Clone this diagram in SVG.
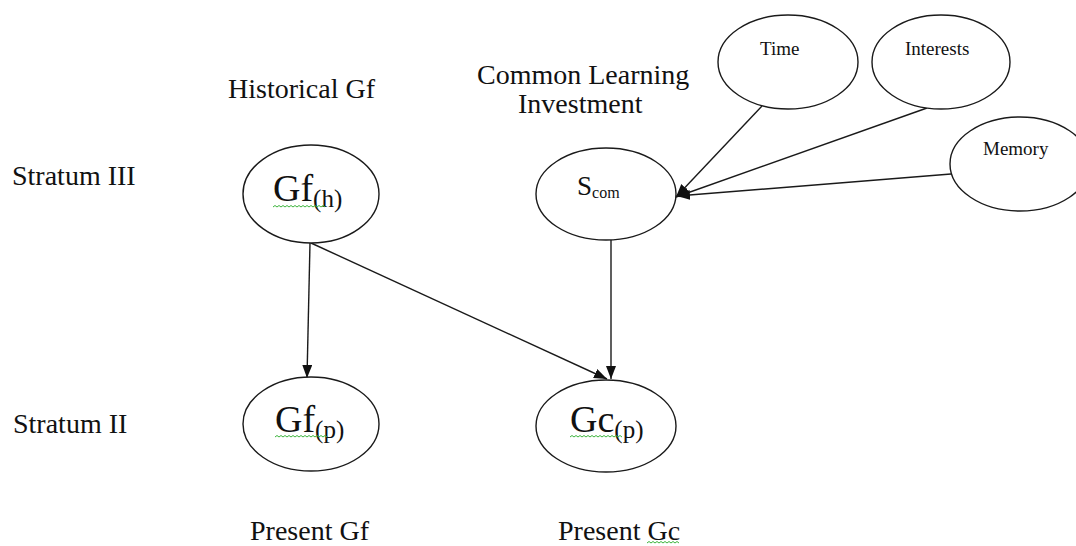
<svg xmlns="http://www.w3.org/2000/svg" width="1076" height="546" viewBox="0 0 1076 546">
<style>
.bg{fill:#ffffff}
.node ellipse{fill:#ffffff;stroke:#1a1a1a;stroke-width:1.4}
text{font-family:"Liberation Serif","Times New Roman",serif;fill:#111}
.lbl{font-size:28px}
.big{font-size:38px}
.sub{font-size:25px}
.ssub{font-size:16px}
.s27{font-size:27px}
.small{font-size:19px}
.edge{stroke:#1a1a1a;stroke-width:1.4;fill:none}
.sq{stroke:#3cb43c;stroke-width:1;fill:none}
</style>
<defs>
<marker id="arr" markerUnits="userSpaceOnUse" markerWidth="14" markerHeight="11" refX="13" refY="5" orient="auto">
<path d="M0,0 L13,5 L0,10 z" fill="#111"/>
</marker>
</defs>
<rect class="bg" x="0" y="0" width="1076" height="546"/>

<g id="labels">
<text class="lbl" x="228" y="98">Historical Gf</text>
<text class="lbl" x="477" y="84">Common Learning</text>
<text class="lbl" x="518" y="113">Investment</text>
<text class="lbl" x="12" y="185">Stratum III</text>
<text class="lbl" x="13" y="433">Stratum II</text>
<text class="lbl" x="250" y="540">Present Gf</text>
<text class="lbl" x="558" y="540">Present Gc</text>
<path class="sq" d="M647,543 l2,-1.5 l2,1.5 l2,-1.5 l2,1.5 l2,-1.5 l2,1.5 l2,-1.5 l2,1.5 l2,-1.5 l2,1.5 l2,-1.5 l2,1.5 l2,-1.5 l2,1.5 l2,-1.5 l2,1.5"/>
</g>

<g id="connectors">
<line class="edge" x1="310" y1="243" x2="307" y2="378" marker-end="url(#arr)"/>
<line class="edge" x1="311" y1="243" x2="607" y2="379" marker-end="url(#arr)"/>
<line class="edge" x1="611" y1="240" x2="611" y2="379" marker-end="url(#arr)"/>
<line class="edge" x1="762" y1="106" x2="676" y2="197" marker-end="url(#arr)"/>
<line class="edge" x1="927" y1="108" x2="676" y2="197" marker-end="url(#arr)"/>
<line class="edge" x1="951" y1="174" x2="677" y2="196" marker-end="url(#arr)"/>
</g>

<g id="node-gfh" class="node">
<ellipse cx="311" cy="194" rx="68" ry="49"/>
<text x="273" y="201"><tspan class="big">Gf</tspan><tspan class="sub" dy="6">(h)</tspan></text>
<path class="sq" d="M273,207 l2,-1.5 l2,1.5 l2,-1.5 l2,1.5 l2,-1.5 l2,1.5 l2,-1.5 l2,1.5 l2,-1.5 l2,1.5 l2,-1.5 l2,1.5 l2,-1.5 l2,1.5 l2,-1.5 l2,1.5 l2,-1.5 l2,1.5 l2,-1.5 l2,1.5 l2,-1.5 l2,1.5 l2,-1.5 l2,1.5 l2,-1.5 l2,1.5"/>
</g>

<g id="node-scom" class="node">
<ellipse cx="606" cy="194" rx="70" ry="46"/>
<text x="577" y="195"><tspan class="s27">S</tspan><tspan class="ssub" dy="3">com</tspan></text>
</g>

<g id="node-gfp" class="node">
<ellipse cx="311" cy="424" rx="68" ry="47"/>
<text x="275" y="432"><tspan class="big">Gf</tspan><tspan class="sub" dy="6">(p)</tspan></text>
<path class="sq" d="M275,437 l2,-1.5 l2,1.5 l2,-1.5 l2,1.5 l2,-1.5 l2,1.5 l2,-1.5 l2,1.5 l2,-1.5 l2,1.5 l2,-1.5 l2,1.5 l2,-1.5 l2,1.5 l2,-1.5 l2,1.5 l2,-1.5 l2,1.5 l2,-1.5 l2,1.5 l2,-1.5 l2,1.5 l2,-1.5 l2,1.5 l2,-1.5 l2,1.5"/>
</g>

<g id="node-gcp" class="node">
<ellipse cx="606" cy="426" rx="70" ry="46"/>
<text x="570" y="432"><tspan class="big">Gc</tspan><tspan class="sub" dy="6">(p)</tspan></text>
<path class="sq" d="M570,437 l2,-1.5 l2,1.5 l2,-1.5 l2,1.5 l2,-1.5 l2,1.5 l2,-1.5 l2,1.5 l2,-1.5 l2,1.5 l2,-1.5 l2,1.5 l2,-1.5 l2,1.5 l2,-1.5 l2,1.5 l2,-1.5 l2,1.5 l2,-1.5 l2,1.5 l2,-1.5 l2,1.5 l2,-1.5 l2,1.5 l2,-1.5 l2,1.5"/>
</g>

<g id="node-time" class="node">
<ellipse cx="788" cy="62" rx="70" ry="47"/>
<text class="small" x="760" y="55">Time</text>
</g>

<g id="node-interests" class="node">
<ellipse cx="941" cy="62" rx="69" ry="47"/>
<text class="small" x="905" y="55">Interests</text>
</g>

<g id="node-memory" class="node">
<ellipse cx="1020" cy="164" rx="70" ry="47"/>
<text class="small" x="983" y="155">Memory</text>
</g>
</svg>
